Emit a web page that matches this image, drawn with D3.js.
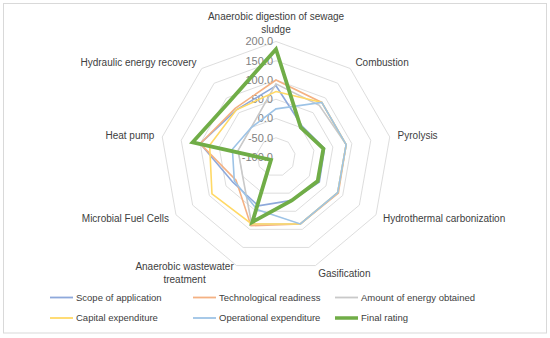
<!DOCTYPE html>
<html>
<head>
<meta charset="utf-8">
<script src="https://cdn.jsdelivr.net/npm/d3@7"></script>
<style>
  body { margin: 0; background: #fff; }
  svg { display: block; font-family: "Liberation Sans", Arial, sans-serif; }
</style>
</head>
<body>
<div id="chart"></div>
<script>
// categories clockwise from the top
var categories = ["Anaerobic digestion of sewage sludge", "Combustion", "Pyrolysis",
    "Hydrothermal carbonization", "Gasification", "Anaerobic wastewater treatment",
    "Microbial Fuel Cells", "Heat pump", "Hydraulic energy recovery"];
var categoryLines = [["Anaerobic digestion of sewage", "sludge"], ["Combustion"], ["Pyrolysis"],
    ["Hydrothermal carbonization"], ["Gasification"], ["Anaerobic wastewater", "treatment"],
    ["Microbial Fuel Cells"], ["Heat pump"], ["Hydraulic energy recovery"]];
var tickValues = [-100, -50, 0, 50, 100, 150, 200];

var seriesNames = ["Scope of application", "Technological readiness", "Amount of energy obtained",
    "Capital expenditure", "Operational expenditure", "Final rating"];
var scopeOfApplication     = [85, 5, 28, 30, 20, 35, 30, 100, 60];
var technologicalReadiness = [100, 85, 85, 87, 85, 90, 20, 100, 65];
var energyObtained         = [90, 75, 85, 85, 85, 85, 0, 0, 0];
var capitalExpenditure     = [70, 85, 85, 85, 85, 85, 92, 75, 60];
var operationalExpenditure = [25, 85, 85, 85, 85, 45, 25, 15, 0];
var finalRating            = [180, 0, 25, 25, 20, 80, -85, 120, 88];

var seriesValues = [scopeOfApplication, technologicalReadiness, energyObtained,
    capitalExpenditure, operationalExpenditure, finalRating];
var colors = ["#8EA9DB", "#F4B183", "#C9C9C9", "#FFD966", "#9DC3E6", "#70AD47"];
var widths = [1.6, 1.6, 1.6, 1.6, 1.6, 3.8];

var width = 550, height = 338;
var cx = 276, cy = 157, R = 115.5;

var svg = d3.select("#chart").append("svg")
    .attr("width", width)
    .attr("height", height);

svg.append("rect")
    .attr("x", 3.5).attr("y", 3.5)
    .attr("width", 543).attr("height", 329.5)
    .attr("fill", "#fff")
    .attr("stroke", "#D9D9D9");

var r = d3.scaleLinear().domain([-100, 200]).range([0, R]);
var angle = d3.scalePoint().domain(d3.range(categories.length))
    .range([0, 2 * Math.PI * (categories.length - 1) / categories.length]);

var g = svg.append("g").attr("transform", "translate(" + cx + "," + cy + ")");

var radial = d3.lineRadial()
    .angle(function (d, i) { return angle(i); })
    .curve(d3.curveLinearClosed);

// grid rings
g.selectAll(".ring")
    .data(tickValues.slice(1))
    .enter().append("path")
    .attr("class", "ring")
    .attr("d", function (t) { return radial.radius(r(t))(categories.map(function () { return t; })); })
    .attr("fill", "none")
    .attr("stroke", "#D9D9D9")
    .attr("stroke-width", 0.9);

// tick labels
g.selectAll(".tick")
    .data(tickValues)
    .enter().append("text")
    .attr("class", "tick")
    .attr("x", -3)
    .attr("y", function (t) { return -r(t); })
    .attr("dy", "0.35em")
    .attr("text-anchor", "end")
    .attr("fill", "#7F7F7F")
    .style("font-size", "11px")
    .text(function (t) { return t.toFixed(1); });

// series
g.selectAll(".series")
    .data(seriesValues)
    .enter().append("path")
    .attr("class", "series")
    .attr("d", function (vals) { return radial.radius(function (d) { return r(d); })(vals); })
    .attr("fill", "none")
    .attr("stroke", function (d, i) { return colors[i]; })
    .attr("stroke-width", function (d, i) { return widths[i]; })
    .attr("stroke-linejoin", "miter");

// category labels
var lineH = 13;
categoryLines.forEach(function (lines, i) {
    var a = angle(i), s = Math.sin(a), c = Math.cos(a);
    var px = (R + 8) * s, py = -(R + 8) * c;
    var anchor = Math.abs(s) < 0.1 ? "middle" : (s > 0 ? "start" : "end");
    var t = g.append("text")
        .attr("fill", "#404040")
        .style("font-size", "10px");
    lines.forEach(function (ln) {
        t.append("tspan").text(ln);
    });
    // measure widths so multi-line labels are centred inside their block
    var spans = t.selectAll("tspan").nodes();
    var w = d3.max(spans, function (n) { return n.getComputedTextLength(); });
    var blockCx = anchor === "middle" ? px : (anchor === "start" ? px + w / 2 : px - w / 2);
    var y0 = c > 0.9 ? py - 4 - (lines.length - 1) * lineH : py - (lines.length - 1) * lineH / 2;
    spans.forEach(function (n, j) {
        d3.select(n)
            .attr("x", blockCx)
            .attr("y", y0 + j * lineH)
            .attr("dy", "0.35em")
            .attr("text-anchor", "middle");
    });
});

// legend
var legendX = [50, 193, 335], legendY = [297.5, 318];
var legend = svg.selectAll(".legend")
    .data(seriesNames)
    .enter().append("g")
    .attr("class", "legend")
    .attr("transform", function (d, i) {
        return "translate(" + legendX[i % 3] + "," + legendY[Math.floor(i / 3)] + ")";
    });
legend.append("line")
    .attr("x1", 0).attr("x2", 23)
    .attr("stroke", function (d, i) { return colors[i]; })
    .attr("stroke-width", function (d, i) { return i === 5 ? 3.5 : 1.8; });
legend.append("text")
    .attr("x", 26)
    .attr("dy", "0.35em")
    .attr("fill", "#404040")
    .style("font-size", "9.5px")
    .text(function (d) { return d; });
</script>
</body>
</html>
